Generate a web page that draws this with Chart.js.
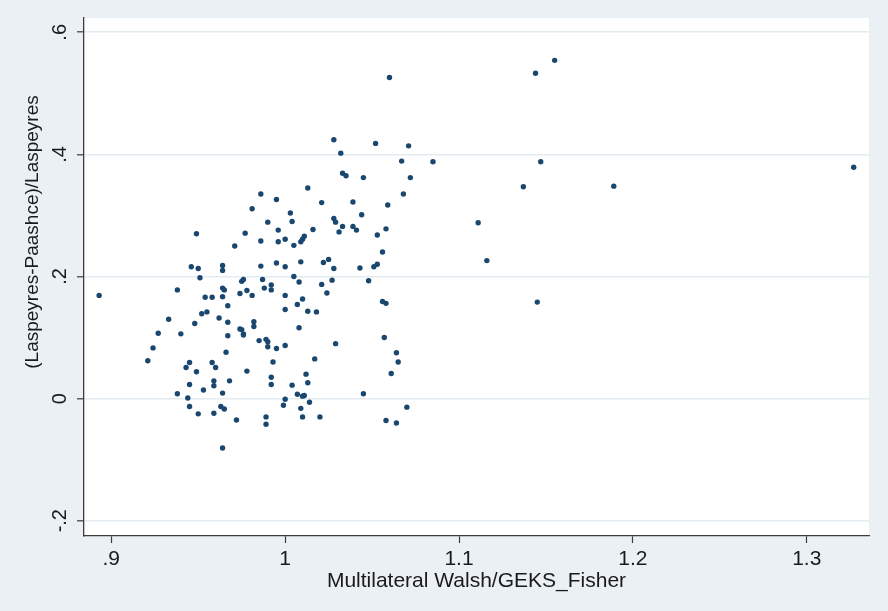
<!DOCTYPE html>
<html>
<head>
<meta charset="utf-8">
<title>Walsh/GEKS vs Laspeyres-Paasche</title>
<script src="https://cdn.jsdelivr.net/npm/chart.js@4.4.1/dist/chart.umd.min.js"></script>
<style>
  html, body { margin: 0; padding: 0; background: #eaf0f3; }
  #wrap { width: 888px; height: 611px; }
</style>
</head>
<body>
<div id="wrap"><canvas id="chart" width="888" height="611"></canvas></div>
<script>
// Scatter: Multilateral Walsh/GEKS_Fisher vs (Laspeyres-Paasche)/Laspeyres
// Values.

const X_VALUES = [
  0.986, 0.995, 0.981, 0.990, 0.996, 0.949, 0.977, 0.986, 0.996, 0.971,
  0.946, 0.950, 0.964, 0.964, 0.986, 0.995, 0.951, 0.975, 0.976, 0.987,
  0.938, 0.964, 0.965, 0.978, 0.988, 0.992, 0.992, 0.974, 0.981, 0.954,
  0.958, 0.964, 0.967, 0.952, 0.955, 0.933, 0.948, 0.962, 0.967, 0.974,
  0.975, 0.976, 0.976, 0.982, 0.982, 0.927, 0.940, 0.967, 0.985, 0.989,
  0.990, 0.990, 0.995, 0.924, 0.966, 0.921, 0.945, 0.943, 0.958, 0.960,
  0.949, 0.978, 0.993, 0.992, 0.992, 0.945, 0.959, 0.959, 0.968, 0.953,
  0.938, 0.944, 0.964, 0.945, 0.950, 0.959, 0.963, 0.965, 0.972, 0.989,
  0.989, 0.964, 1.028, 1.052, 1.071, 1.032, 1.067, 1.033, 1.035, 1.045,
  1.072, 1.013, 1.021, 1.039, 1.068, 1.059, 1.003, 1.004, 1.028, 1.029,
  1.044, 1.033, 1.031, 1.039, 1.041, 1.016, 1.000, 1.005, 1.009, 1.010,
  1.011, 1.058, 1.053, 1.056, 1.000, 1.009, 1.022, 1.025, 1.028, 1.043,
  1.051, 1.053, 1.005, 1.008, 1.021, 1.027, 1.048, 1.024, 1.000, 1.010,
  1.007, 1.000, 1.013, 1.018, 1.056, 1.058, 1.008, 1.000, 1.029, 1.057,
  1.064, 1.065, 1.017, 1.061, 1.012, 1.013, 1.004, 1.045, 1.007, 1.010,
  1.011, 1.000, 0.999, 1.014, 1.009, 1.010, 1.020, 1.070, 1.058, 1.064,
  1.155, 1.144, 1.085, 1.147, 1.327, 1.137, 1.189, 1.111, 1.116, 1.060,
  0.893, 1.145
];

const Y_VALUES = [
  0.335, 0.326, 0.311, 0.289, 0.276, 0.270, 0.271, 0.258, 0.257, 0.250,
  0.216, 0.213, 0.218, 0.210, 0.217, 0.222, 0.198, 0.192, 0.195, 0.195,
  0.178, 0.181, 0.178, 0.177, 0.181, 0.186, 0.178, 0.172, 0.169, 0.166,
  0.166, 0.167, 0.152, 0.139, 0.142, 0.130, 0.123, 0.132, 0.125, 0.114,
  0.113, 0.106, 0.104, 0.126, 0.118, 0.107, 0.106, 0.103, 0.095, 0.097,
  0.093, 0.085, 0.082, 0.083, 0.076, 0.062, 0.059, 0.051, 0.059, 0.051,
  0.044, 0.045, 0.060, 0.035, 0.023, 0.023, 0.029, 0.021, 0.029, 0.014,
  0.008, 0.001, 0.009, -0.013, -0.025, -0.024, -0.013, -0.017, -0.035, -0.030,
  -0.042, -0.081, 0.424, 0.418, 0.414, 0.402, 0.389, 0.369, 0.365, 0.362,
  0.362, 0.345, 0.321, 0.322, 0.335, 0.317, 0.304, 0.290, 0.295, 0.289,
  0.301, 0.282, 0.273, 0.282, 0.276, 0.277, 0.261, 0.251, 0.257, 0.261,
  0.266, 0.278, 0.268, 0.240, 0.216, 0.224, 0.223, 0.228, 0.213, 0.214,
  0.216, 0.220, 0.200, 0.191, 0.187, 0.194, 0.193, 0.173, 0.169, 0.163,
  0.154, 0.146, 0.143, 0.142, 0.159, 0.156, 0.116, 0.087, 0.090, 0.100,
  0.075, 0.060, 0.065, 0.041, 0.040, 0.026, 0.022, 0.008, 0.007, 0.004,
  0.005, -0.001, -0.011, -0.006, -0.016, -0.030, -0.030, -0.014, -0.036, -0.040,
  0.554, 0.533, 0.388, 0.388, 0.379, 0.347, 0.348, 0.288, 0.226, 0.526,
  0.169, 0.158
];

const X_TICKS = [0.9, 1.0, 1.1, 1.2, 1.3];
const X_TICK_LABELS = [".9", "1", "1.1", "1.2", "1.3"];
const Y_TICKS = [-0.2, 0, 0.2, 0.4, 0.6];
const Y_TICK_LABELS = ["-.2", "0", ".2", ".4", ".6"];

const X_TITLE = "Multilateral Walsh/GEKS_Fisher";
const Y_TITLE = "(Laspeyres-Paashce)/Laspeyres";

// axis ranges (plot region spans a little beyond the ticks)
const X_MIN = 0.8843, X_MAX = 1.3358;
const Y_MIN = -0.2251, Y_MAX = 0.6234;

const NAVY = "#1a476f";
const GRAPH_BG = "#eaf0f3";
const GRID = "#e3ecf0";
const AXIS = "#3c3c3c";
const TEXT = "#1a1a1a";
const FONT = "'Liberation Sans', Arial, sans-serif";

function labelFor(ticks, labels, v) {
  const i = ticks.findIndex(t => Math.abs(t - v) < 1e-9);
  return i >= 0 ? labels[i] : "";
}

// grey graph region, white plot region
const bgPlugin = {
  id: "stataBg",
  beforeDraw(chart) {
    const { ctx, chartArea: a } = chart;
    ctx.save();
    ctx.fillStyle = GRAPH_BG;
    ctx.fillRect(0, 0, chart.width, chart.height);
    ctx.fillStyle = "#ffffff";
    ctx.fillRect(a.left, a.top, a.right - a.left, a.bottom - a.top);
    ctx.restore();
  }
};

// y title sits a bit above the plot centre in the original
const yTitlePlugin = {
  id: "yTitle",
  afterDraw(chart) {
    const ctx = chart.ctx;
    ctx.save();
    ctx.translate(33, 232);
    ctx.rotate(-Math.PI / 2);
    ctx.font = "19px " + FONT;
    ctx.fillStyle = TEXT;
    ctx.textAlign = "center";
    ctx.textBaseline = "middle";
    ctx.fillText(Y_TITLE, 0, 0);
    ctx.restore();
  }
};

const points = X_VALUES.map((x, i) => ({ x, y: Y_VALUES[i] }));

new Chart(document.getElementById("chart"), {
  type: "scatter",
  data: {
    datasets: [{
      data: points,
      backgroundColor: NAVY,
      borderWidth: 0,
      pointRadius: 2.7,
      pointHoverRadius: 2.7
    }]
  },
  options: {
    responsive: false,
    animation: false,
    devicePixelRatio: 1,
    layout: { padding: { top: 18, right: 19, left: 0, bottom: 0 } },
    plugins: { legend: { display: false }, tooltip: { enabled: false } },
    scales: {
      x: {
        type: "linear",
        min: X_MIN,
        max: X_MAX,
        afterBuildTicks: s => { s.ticks = X_TICKS.map(v => ({ value: v })); },
        afterFit: s => { s.height = 75; },
        grid: { drawOnChartArea: false, drawTicks: true, tickLength: 7, tickColor: AXIS, tickWidth: 1.2 },
        border: { display: true, color: AXIS, width: 1.3 },
        ticks: {
          padding: 4,
          maxRotation: 0,
          color: TEXT,
          font: { family: FONT, size: 21 },
          callback: v => labelFor(X_TICKS, X_TICK_LABELS, v)
        },
        title: {
          display: true,
          text: X_TITLE,
          color: TEXT,
          font: { family: FONT, size: 21 },
          padding: { top: 0, bottom: 17 }
        }
      },
      y: {
        type: "linear",
        min: Y_MIN,
        max: Y_MAX,
        afterBuildTicks: s => { s.ticks = Y_TICKS.map(v => ({ value: v })); },
        afterFit: s => { s.width = 84; },
        grid: { color: GRID, lineWidth: 1.6, drawTicks: true, tickLength: 7, tickColor: AXIS, tickWidth: 1.2 },
        border: { display: true, color: AXIS, width: 1.3 },
        ticks: {
          padding: 5,
          minRotation: 90,
          maxRotation: 90,
          crossAlign: "center",
          color: TEXT,
          font: { family: FONT, size: 20 },
          callback: v => labelFor(Y_TICKS, Y_TICK_LABELS, v)
        }
      }
    }
  },
  plugins: [bgPlugin, yTitlePlugin]
});
</script>
</body>
</html>
